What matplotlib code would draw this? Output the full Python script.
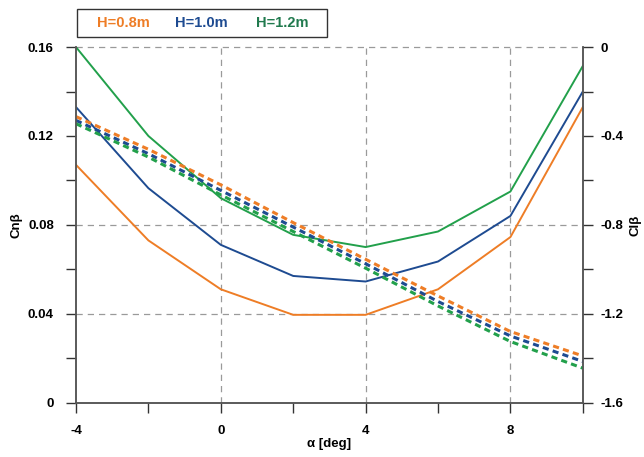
import numpy as np
import matplotlib
matplotlib.use("Agg")
import matplotlib.pyplot as plt
from matplotlib.ticker import FixedLocator
from matplotlib.patches import Rectangle

plt.rcParams['font.family'] = ['Liberation Sans', 'DejaVu Sans']
plt.rcParams['font.weight'] = 'bold'

# angle of attack [deg]
alpha = [-4, -2, 0, 2, 4, 6, 8, 10]
heights = ['H=0.8m', 'H=1.0m', 'H=1.2m']
colors = ['#EE7D26', '#1E4B91', '#22A04B']
text_colors = ['#EE7D26', '#1E4B91', '#217A4E']

# yaw stiffness Cn_beta (left axis)
cn_08 = [0.107, 0.073, 0.051, 0.0395, 0.0395, 0.051, 0.0745, 0.133]
cn_10 = [0.133, 0.0965, 0.071, 0.057, 0.0545, 0.0635, 0.084, 0.140]
cn_12 = [0.160, 0.120, 0.092, 0.0755, 0.070, 0.077, 0.095, 0.1515]

# roll stiffness Cl_beta (right axis)
cl_08 = [-0.313, -0.46, -0.62, -0.79, -0.955, -1.12, -1.28, -1.39]
cl_10 = [-0.33, -0.48, -0.645, -0.81, -0.975, -1.145, -1.30, -1.415]
cl_12 = [-0.345, -0.495, -0.665, -0.83, -0.995, -1.165, -1.325, -1.445]

cn_all = [cn_08, cn_10, cn_12]
cl_all = [cl_08, cl_10, cl_12]

x_major = [-4, 0, 4, 8]
x_minor = [-2, 2, 6, 10]
cn_major = [0, 0.04, 0.08, 0.12, 0.16]
cn_minor = [0.02, 0.06, 0.10, 0.14]
cl_major = [-1.6, -1.2, -0.8, -0.4, 0]
cl_minor = [-1.4, -1.0, -0.6, -0.2]

fig = plt.figure(figsize=(6.44, 4.57), dpi=100)
ax = fig.add_axes([0.118, 0.119, 0.787, 0.778])
ax2 = ax.twinx()

# dashed grid at selected levels only
grid_kw = dict(color='#9a9a9a', ls=(0, (5, 4)), lw=0.9, zorder=0)
for xv in [0, 4, 8]:
    ax.axvline(xv, **grid_kw)
for yv in [0.04, 0.08]:
    ax.axhline(yv, **grid_kw)
ax.axhline(0.16, clip_on=False, **grid_kw)

for cn, c in zip(cn_all, colors):
    ax.plot(alpha, cn, color=c, lw=1.4)
for cl, c in zip(cl_all, colors):
    ax2.plot(alpha, cl, color=c, lw=2.2, dashes=(2.0, 1.4))

ax.set_xlim(-4, 10)
ax.set_ylim(0, 0.16)
ax2.set_ylim(-1.6, 0)

ax.set_xticks(x_major)
ax.set_xticklabels(['-4', '0', '4', '8'])
ax.xaxis.set_minor_locator(FixedLocator(x_minor))
ax.set_yticks(cn_major)
ax.set_yticklabels(['0', '0.04', '0.08', '0.12', '0.16'])
ax.yaxis.set_minor_locator(FixedLocator(cn_minor))
ax2.set_yticks(cl_major)
ax2.set_yticklabels(['-1.6', '-1.2', '-0.8', '-0.4', '0'])
ax2.yaxis.set_minor_locator(FixedLocator(cl_minor))

for a in (ax, ax2):
    a.tick_params(which='both', direction='out', length=7, width=1,
                  color='#333333', labelsize=9.5)
    a.spines['top'].set_visible(False)
    for s in ('left', 'right', 'bottom'):
        a.spines[s].set_color('#555555')
        a.spines[s].set_linewidth(1.1)
ax.tick_params(axis='x', which='both', pad=9)
ax.tick_params(axis='y', which='both', pad=9)
ax2.tick_params(axis='y', which='both', pad=6)

ax.set_xlabel('α [deg]', fontsize=9.5, fontweight='bold', labelpad=1)
ax.set_ylabel('Cnβ', fontsize=9.5, fontweight='bold', labelpad=4)
ax2.set_ylabel('Clβ', fontsize=9.5, fontweight='bold', labelpad=4)

# legend box above the plot: coloured text only
fig.patches.append(Rectangle((0.1196, 0.919), 0.388, 0.0613,
                             transform=fig.transFigure, fill=False,
                             edgecolor='#333333', lw=1.0))
for lbl, c, xc in zip(heights, text_colors, [0.191, 0.312, 0.438]):
    fig.text(xc, 0.9497, lbl, color=c, fontsize=10.5, fontweight='bold',
             ha='center', va='center')

fig.savefig('out.png', dpi=100)
